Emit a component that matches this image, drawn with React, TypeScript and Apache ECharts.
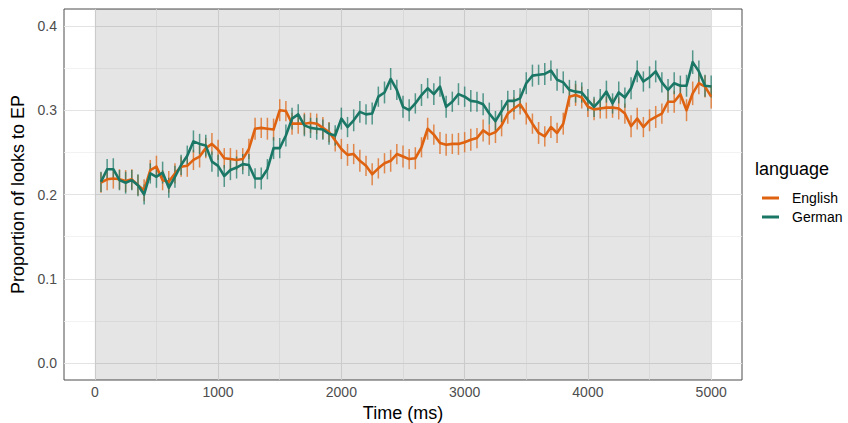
import { useEffect, useRef } from "react";
import * as echarts from "echarts";

const TIME = [
  50, 100, 150, 200, 250, 300, 350, 400, 450, 500,
  550, 600, 650, 700, 750, 800, 850, 900, 950, 1000,
  1050, 1100, 1150, 1200, 1250, 1300, 1350, 1400, 1450, 1500,
  1550, 1600, 1650, 1700, 1750, 1800, 1850, 1900, 1950, 2000,
  2050, 2100, 2150, 2200, 2250, 2300, 2350, 2400, 2450, 2500,
  2550, 2600, 2650, 2700, 2750, 2800, 2850, 2900, 2950, 3000,
  3050, 3100, 3150, 3200, 3250, 3300, 3350, 3400, 3450, 3500,
  3550, 3600, 3650, 3700, 3750, 3800, 3850, 3900, 3950, 4000,
  4050, 4100, 4150, 4200, 4250, 4300, 4350, 4400, 4450, 4500,
  4550, 4600, 4650, 4700, 4750, 4800, 4850, 4900, 4950, 5000,
];

const ENGLISH = [
  0.214, 0.218, 0.219, 0.218, 0.216, 0.218, 0.211, 0.205, 0.229, 0.233,
  0.217, 0.215, 0.225, 0.233, 0.234, 0.241, 0.245, 0.255, 0.26, 0.253,
  0.243, 0.242, 0.241, 0.242, 0.254, 0.278, 0.279, 0.278, 0.277, 0.3,
  0.299, 0.284, 0.284, 0.284, 0.285, 0.284, 0.279, 0.274, 0.264, 0.254,
  0.247, 0.248, 0.24, 0.234, 0.224, 0.231, 0.237, 0.24, 0.248, 0.245,
  0.242, 0.243, 0.256, 0.278, 0.271, 0.261, 0.259, 0.26, 0.26, 0.262,
  0.265, 0.267, 0.276, 0.271, 0.274, 0.282, 0.296, 0.302, 0.307, 0.296,
  0.284, 0.273, 0.269, 0.28, 0.273, 0.284, 0.316, 0.318, 0.315, 0.304,
  0.301, 0.302, 0.303, 0.303, 0.302, 0.296, 0.281, 0.29, 0.28, 0.288,
  0.292, 0.296, 0.31, 0.31, 0.319, 0.3, 0.32, 0.332, 0.328, 0.316,
];

const GERMAN = [
  0.215, 0.23, 0.23, 0.217, 0.214, 0.217, 0.211, 0.2, 0.225, 0.221,
  0.226, 0.208, 0.221, 0.235, 0.246, 0.263, 0.26, 0.258, 0.239, 0.234,
  0.222, 0.229, 0.232, 0.236, 0.235, 0.219, 0.219, 0.23, 0.255, 0.255,
  0.27, 0.29, 0.295, 0.282, 0.279, 0.278, 0.277, 0.272, 0.27, 0.29,
  0.28, 0.288, 0.298, 0.295, 0.296, 0.316, 0.321, 0.337, 0.324, 0.304,
  0.3, 0.308, 0.318, 0.326, 0.319, 0.328, 0.304, 0.31, 0.319, 0.316,
  0.311, 0.31, 0.307, 0.296, 0.287, 0.299, 0.311, 0.311, 0.314, 0.332,
  0.341, 0.342, 0.343, 0.347, 0.336, 0.333, 0.324, 0.322, 0.321, 0.312,
  0.304, 0.312, 0.322, 0.308, 0.321, 0.315, 0.326, 0.346, 0.334, 0.339,
  0.346, 0.333, 0.324, 0.332, 0.329, 0.329, 0.357, 0.346, 0.329, 0.328,
];

const ENGLISH_SE = [
  0.012, 0.013, 0.012, 0.012, 0.013, 0.012, 0.012, 0.013, 0.012, 0.013,
  0.012, 0.013, 0.012, 0.012, 0.013, 0.012, 0.013, 0.012, 0.013, 0.012,
  0.012, 0.013, 0.012, 0.013, 0.012, 0.013, 0.012, 0.013, 0.013, 0.013,
  0.012, 0.013, 0.012, 0.013, 0.012, 0.012, 0.013, 0.012, 0.013, 0.012,
  0.013, 0.012, 0.013, 0.012, 0.013, 0.012, 0.012, 0.013, 0.012, 0.013,
  0.012, 0.013, 0.012, 0.013, 0.012, 0.013, 0.013, 0.012, 0.013, 0.012,
  0.013, 0.012, 0.013, 0.012, 0.013, 0.013, 0.012, 0.013, 0.012, 0.013,
  0.012, 0.013, 0.012, 0.013, 0.012, 0.013, 0.012, 0.013, 0.013, 0.012,
  0.013, 0.012, 0.013, 0.012, 0.013, 0.012, 0.013, 0.013, 0.012, 0.013,
  0.013, 0.012, 0.013, 0.013, 0.012, 0.013, 0.014, 0.013, 0.013, 0.014,
];

const GERMAN_SE = [
  0.012, 0.012, 0.013, 0.012, 0.013, 0.012, 0.013, 0.012, 0.012, 0.013,
  0.013, 0.012, 0.013, 0.012, 0.012, 0.013, 0.012, 0.013, 0.012, 0.013,
  0.013, 0.012, 0.013, 0.012, 0.013, 0.012, 0.013, 0.012, 0.013, 0.012,
  0.013, 0.013, 0.012, 0.013, 0.012, 0.013, 0.012, 0.013, 0.012, 0.013,
  0.012, 0.013, 0.013, 0.012, 0.013, 0.012, 0.013, 0.013, 0.012, 0.013,
  0.013, 0.012, 0.013, 0.012, 0.013, 0.012, 0.013, 0.012, 0.013, 0.012,
  0.013, 0.012, 0.013, 0.013, 0.012, 0.013, 0.012, 0.013, 0.012, 0.013,
  0.013, 0.012, 0.013, 0.012, 0.013, 0.013, 0.012, 0.013, 0.012, 0.013,
  0.012, 0.013, 0.013, 0.012, 0.013, 0.012, 0.013, 0.013, 0.012, 0.013,
  0.013, 0.012, 0.013, 0.013, 0.012, 0.013, 0.014, 0.013, 0.013, 0.013,
];

const X_TICKS = [0, 1000, 2000, 3000, 4000, 5000];
const X_MINOR = [500, 1500, 2500, 3500, 4500];
const Y_TICKS = [0, 0.1, 0.2, 0.3, 0.4];
const Y_MINOR = [0.05, 0.15, 0.25, 0.35];
const SHADE = [0, 5000];
const LANGUAGES = ["English", "German"];

const ORANGE = "#DE6210";
const GREEN = "#1A7766";
const FONT = "'Liberation Sans', Arial, sans-serif";

export default function App() {
  const ref = useRef<HTMLDivElement>(null);

  useEffect(() => {
    const chart = echarts.init(ref.current!, null, { renderer: "svg" });

    const errSeries = (name: string, vals: number[], se: number[], color: string, z: number) => ({
      type: "custom",
      name,
      z,
      silent: true,
      data: TIME.map((t, i) => [t, vals[i] - se[i], vals[i] + se[i]]),
      encode: { x: 0, y: [1, 2] },
      renderItem: (_params: any, api: any) => {
        const p1 = api.coord([api.value(0), api.value(1)]);
        const p2 = api.coord([api.value(0), api.value(2)]);
        return {
          type: "line",
          shape: { x1: p1[0], y1: p1[1], x2: p2[0], y2: p2[1] },
          style: { stroke: color, lineWidth: 1.5, opacity: 0.72 },
        };
      },
    });

    const majorStyle = { color: "#e3e3e3", width: 1.1, type: "solid" };
    const minorStyle = { color: "#efefef", width: 0.8, type: "solid" };

    const gridLines = [
      ...X_MINOR.map((v) => ({ xAxis: v, lineStyle: minorStyle })),
      ...Y_MINOR.map((v) => ({ yAxis: v, lineStyle: minorStyle })),
      ...X_TICKS.map((v) => ({ xAxis: v, lineStyle: majorStyle })),
      ...Y_TICKS.map((v) => ({ yAxis: v, lineStyle: majorStyle })),
    ];

    const option: any = {
      animation: false,
      textStyle: { fontFamily: FONT },
      title: {
        text: "language",
        left: 755,
        top: 160,
        padding: 0,
        textStyle: { fontSize: 18, fontWeight: "normal", color: "#000", fontFamily: FONT },
      },
      legend: {
        data: LANGUAGES,
        orient: "vertical",
        left: 762,
        top: 191,
        itemGap: 5,
        itemWidth: 17,
        itemHeight: 3,
        icon: "rect",
        padding: 0,
        textStyle: { fontSize: 14, color: "#000", fontFamily: FONT, padding: [0, 0, 0, 8] },
      },
      grid: {
        left: 64,
        right: 106,
        top: 9,
        bottom: 43,
        show: true,
        backgroundColor: "#fff",
        borderColor: "#4d4d4d",
        borderWidth: 1,
        outerBoundsMode: "none",
        containLabel: false,
      },
      xAxis: {
        type: "value",
        min: -250,
        max: 5250,
        name: "Time (ms)",
        nameLocation: "middle",
        nameGap: 20,
        nameTextStyle: { fontSize: 18, color: "#000", fontFamily: FONT },
        axisLine: { show: false },
        axisTick: { show: true, length: 4, customValues: X_TICKS, lineStyle: { color: "#333", width: 1 } },
        axisLabel: {
          customValues: X_TICKS,
          margin: 5,
          fontSize: 14,
          color: "#4d4d4d",
          fontFamily: FONT,
          formatter: (v: number) => String(v),
        },
        splitLine: { show: false },
      },
      yAxis: {
        type: "value",
        min: -0.02,
        max: 0.42,
        name: "Proportion of looks to EP",
        nameLocation: "middle",
        nameGap: 25,
        nameTextStyle: { fontSize: 18, color: "#000", fontFamily: FONT },
        axisLine: { show: false },
        axisTick: { show: true, length: 4, customValues: Y_TICKS, lineStyle: { color: "#333", width: 1 } },
        axisLabel: {
          customValues: Y_TICKS,
          margin: 7,
          fontSize: 14,
          color: "#4d4d4d",
          fontFamily: FONT,
          formatter: (v: number) => v.toFixed(1),
        },
        splitLine: { show: false },
      },
      series: [
        {
          type: "line",
          name: "grid",
          data: [],
          silent: true,
          markLine: {
            z: 1,
            silent: true,
            symbol: "none",
            label: { show: false },
            emphasis: { disabled: true },
            data: gridLines,
          },
          markArea: {
            z: 2,
            silent: true,
            itemStyle: { color: "rgba(0,0,0,0.1)" },
            emphasis: { disabled: true },
            data: [[{ xAxis: SHADE[0] }, { xAxis: SHADE[1] }]],
          },
        },
        errSeries("English_se", ENGLISH, ENGLISH_SE, ORANGE, 3),
        errSeries("German_se", GERMAN, GERMAN_SE, GREEN, 3),
        {
          type: "line",
          name: LANGUAGES[0],
          z: 4,
          color: ORANGE,
          showSymbol: false,
          symbol: "none",
          data: TIME.map((t, i) => [t, ENGLISH[i]]),
          lineStyle: { width: 2.6, color: ORANGE, join: "round" },
          emphasis: { disabled: true },
        },
        {
          type: "line",
          name: LANGUAGES[1],
          z: 5,
          color: GREEN,
          showSymbol: false,
          symbol: "none",
          data: TIME.map((t, i) => [t, GERMAN[i]]),
          lineStyle: { width: 2.6, color: GREEN, join: "round" },
          emphasis: { disabled: true },
        },
      ],
    };

    chart.setOption(option);
    return () => chart.dispose();
  }, []);

  return (
    <div
      ref={ref}
      style={{ position: "absolute", left: 0, top: 0, width: 848, height: 423, background: "#fff" }}
    />
  );
}
